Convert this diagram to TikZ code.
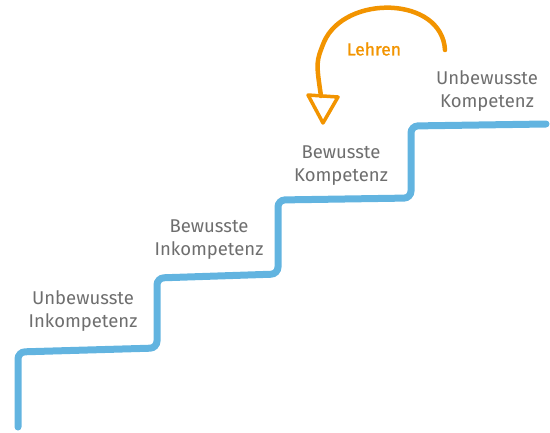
\documentclass[tikz,border=0pt]{standalone}
\usepackage{fontspec}
\setmainfont{Fira Sans}
\newfontfamily\accentfont[FakeBold=1.2]{Fira Sans}
\definecolor{stairblue}{HTML}{62B4E0}
\definecolor{labelgray}{HTML}{6E6E6E}
\definecolor{teachorange}{HTML}{F29400}
\begin{document}
\begin{tikzpicture}[x=1pt,y=-1pt,
  stage/.style={text=labelgray,font=\fontsize{18.5}{23}\selectfont,align=center,inner sep=0pt},
  stair/.style={draw=stairblue,line width=7,line cap=round,rounded corners=7},
  teach/.style={draw=teachorange,line width=4.5,line cap=round,line join=round}]
\useasboundingbox (0,0) rectangle (550,432);
% staircase
\draw[stair] (18,427) -- (18,352) -- (157,348) -- (157,278) -- (278,274) -- (278,200)
  -- (411,198) -- (411,126) -- (546,124);
% stage labels
\node[stage] (ui) at (83,311) {Unbewusste\\Inkompetenz};
\node[stage] (bi) at (209,240) {Bewusste\\Inkompetenz};
\node[stage] (bk) at (341,166) {Bewusste\\Kompetenz};
\node[stage] (uk) at (487,91) {Unbewusste\\Kompetenz};
% teaching loop
\node[text=teachorange,font=\accentfont\fontsize{17.5}{20}\selectfont,inner sep=0pt] (lehren) at (374,49) {Lehren};
\coordinate (tail) at (445,50);
\coordinate (neck) at (321,96);
\coordinate (tip) at (323,123);
\draw[teach] (tail) .. controls (442,-4) and (345,-6) .. (324,42) .. controls (316,62) .. (neck);
\draw[teach,line width=3.5] (308,95) -- (338,97) -- (tip) -- cycle;
\end{tikzpicture}
\end{document}
